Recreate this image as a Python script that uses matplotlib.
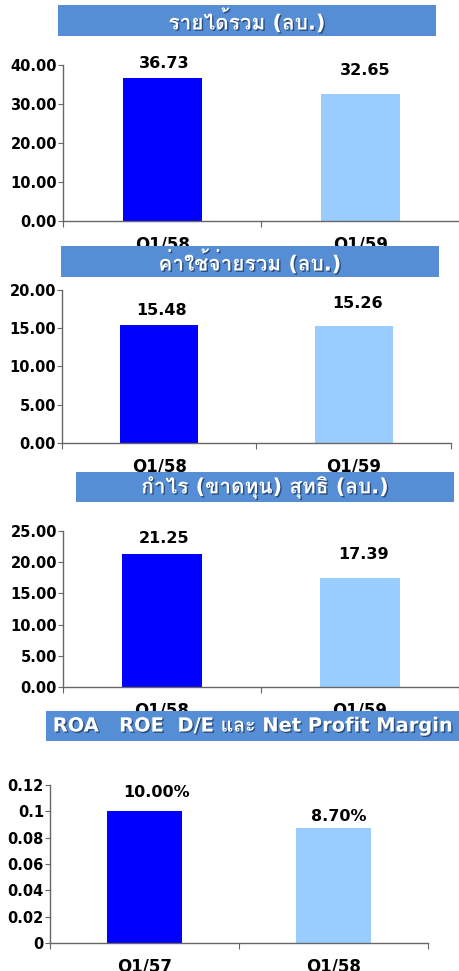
import matplotlib
matplotlib.use("Agg")
import matplotlib.pyplot as plt
import matplotlib.patheffects as pe
from matplotlib import font_manager
from matplotlib.ft2font import FT2Font
from matplotlib.patches import Rectangle
from matplotlib.ticker import StrMethodFormatter, FixedLocator, FixedFormatter

# data
titles = ["รายได้รวม (ลบ.)", "ค่าใช้จ่ายรวม (ลบ.)", "กำไร (ขาดทุน) สุทธิ (ลบ.)",
          "ROA   ROE  D/E และ Net Profit Margin"]
cats_main = ["Q1/58", "Q1/59"]
cats_ratio = ["Q1/57", "Q1/58"]
revenue = [36.73, 32.65]
expenses = [15.48, 15.26]
net_profit = [21.25, 17.39]
ratio = [0.10, 0.087]
ratio_ticks = [0, 0.02, 0.04, 0.06, 0.08, 0.1, 0.12]
ratio_tick_labels = ["0", "0.02", "0.04", "0.06", "0.08", "0.1", "0.12"]

W, H = 460, 971
DARK = "#0000FF"
LIGHT = "#99CCFF"
BOX = "#558ED5"
SPINE = "#666666"


# look for a font that can draw Thai, bold if possible
def find_thai_font():
    best = None
    for f in font_manager.fontManager.ttflist:
        try:
            cmap = FT2Font(f.fname).get_charmap()
        except Exception:
            continue
        if 0x0E23 in cmap and 0x0E49 in cmap:
            if f.weight in ("bold", 700) or (isinstance(f.weight, int) and f.weight >= 700):
                return f.name
            if best is None:
                best = f.name
    return best


thai = find_thai_font()
fams = ["DejaVu Sans"] + ([thai] if thai else [])
plt.rcParams["font.family"] = fams
plt.rcParams["font.weight"] = "bold"

fig = plt.figure(figsize=(W / 100, H / 100), dpi=100)


def px_rect(l, r, t, b):
    return [l / W, 1 - b / H, (r - l) / W, (b - t) / H]


def title_box(text, l, r, t, b, size):
    fig.add_artist(Rectangle((l / W, 1 - b / H), (r - l) / W, (b - t) / H,
                             transform=fig.transFigure, facecolor=BOX,
                             edgecolor="none", zorder=5))
    fig.text((l + r) / 2 / W, 1 - (t + b) / 2 / H, text, color="white",
             fontsize=size, fontweight="bold", ha="center", va="center",
             zorder=6, family=fams,
             path_effects=[pe.withSimplePatchShadow(offset=(1, -1),
                                                    shadow_rgbFace="#1a2f55", alpha=0.7)])


def panel(rect, values, cats, ymax, step, labels, offsets, fmt_ticks=None):
    ax = fig.add_axes(rect)
    ax.bar([0.5, 1.5], values, width=0.4, color=[DARK, LIGHT], zorder=2)
    ax.set_xlim(0, 2)
    ax.set_ylim(0, ymax)
    for s in ("top", "right"):
        ax.spines[s].set_visible(False)
    for s in ("left", "bottom"):
        ax.spines[s].set_color(SPINE)
        ax.spines[s].set_linewidth(1)
    ax.xaxis.set_major_locator(FixedLocator([0, 1, 2]))
    ax.xaxis.set_major_formatter(FixedFormatter(["", "", ""]))
    ax.xaxis.set_minor_locator(FixedLocator([0.5, 1.5]))
    ax.xaxis.set_minor_formatter(FixedFormatter(cats))
    ax.tick_params(axis="x", which="major", length=4.5, color=SPINE, direction="out")
    ax.tick_params(axis="x", which="minor", length=0, pad=10.5, labelsize=12)
    ax.tick_params(axis="y", length=3.6, color=SPINE, pad=0.8, labelsize=10.5)
    if fmt_ticks is None:
        ax.yaxis.set_major_locator(FixedLocator([i * step for i in range(int(round(ymax / step)) + 1)]))
        ax.yaxis.set_major_formatter(StrMethodFormatter("{x:.2f}"))
    else:
        ax.yaxis.set_major_locator(FixedLocator(fmt_ticks[0]))
        ax.yaxis.set_major_formatter(FixedFormatter(fmt_ticks[1]))
    for lab in ax.get_xticklabels(minor=True) + ax.get_yticklabels():
        lab.set_fontweight("bold")
    for x, v, lab, (dx, dy) in zip([0.5, 1.5], values, labels, offsets):
        ax.annotate(lab, (x, v), xytext=(dx * 0.72, dy * 0.72), textcoords="offset points",
                    ha="center", va="baseline", fontsize=11.5, fontweight="bold")
    return ax


panel(px_rect(63, 460, 65, 221), revenue, cats_main, 40, 10,
      ["%.2f" % v for v in revenue], [(2, 10), (4, 19)])
panel(px_rect(62, 451, 290, 443), expenses, cats_main, 20, 5,
      ["%.2f" % v for v in expenses], [(2, 10), (4, 18)])
panel(px_rect(63, 459, 531, 687), net_profit, cats_main, 25, 5,
      ["%.2f" % v for v in net_profit], [(2, 11), (4, 19)])
panel(px_rect(50, 428, 785, 943), ratio, cats_ratio, 0.12, 0.02,
      ["{:.2%}".format(v) for v in ratio], [(12, 14), (5, 7)],
      fmt_ticks=(ratio_ticks, ratio_tick_labels))

title_box(titles[0], 58, 436, 5, 36, 15)
title_box(titles[1], 61, 439, 246, 277, 15)
title_box(titles[2], 76, 454, 472, 502, 15)
title_box(titles[3], 46, 460, 711, 741, 14)

fig.savefig("out.png", dpi=100)
